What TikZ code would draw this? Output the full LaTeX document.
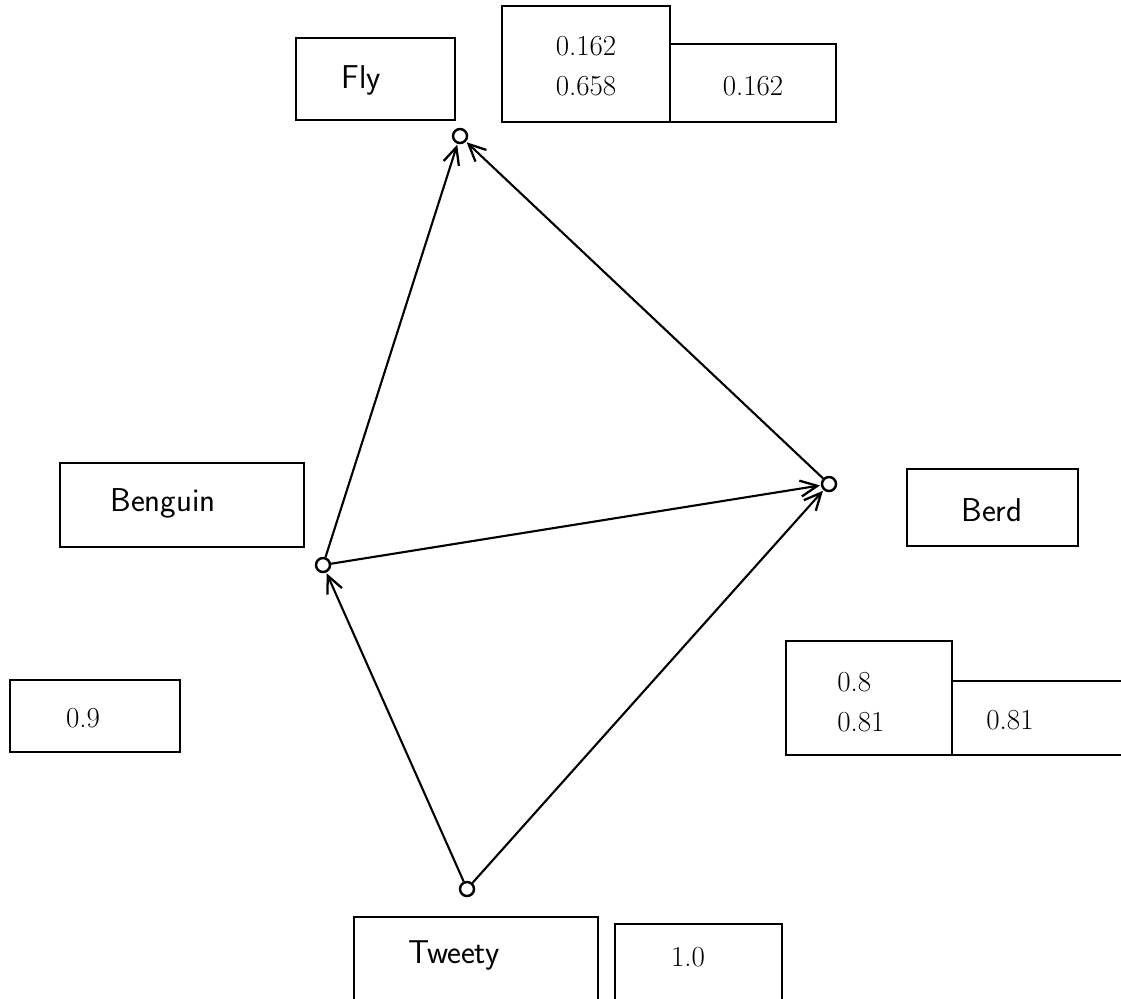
\documentclass[tikz,border=0pt]{standalone}
\usetikzlibrary{arrows.meta}
\begin{document}
\begin{tikzpicture}[x=0.02cm,y=-0.02cm,
  box/.style={draw, line width=1pt, rectangle, inner sep=0pt},
  lbl/.style={font=\fontsize{18.8}{22.7}\selectfont\sffamily, inner sep=0pt},
  num/.style={font=\fontsize{16.5}{22.7}\selectfont\rmfamily, inner sep=0pt, align=left},
  pt/.style={draw, circle, line width=1.4pt, minimum size=0.28cm, inner sep=0pt},
  edge/.style={line width=1.2pt, -{Straight Barb[length=3.4mm,width=3.2mm,line width=1.3pt]}, shorten >=0.5pt}]
\useasboundingbox (0,0) rectangle (1121,998);
% boxes
\node[box, minimum width=159*0.02cm, minimum height=82*0.02cm] (flybox) at (375.5,79) {};
\node[box, minimum width=168*0.02cm, minimum height=116*0.02cm] (flyA) at (586,64) {};
\node[box, minimum width=166*0.02cm, minimum height=78*0.02cm] (flyB) at (753,83) {};
\node[box, minimum width=244*0.02cm, minimum height=84*0.02cm] (benbox) at (182,505) {};
\node[box, minimum width=171*0.02cm, minimum height=77*0.02cm] (berbox) at (992.5,507.5) {};
\node[box, minimum width=170*0.02cm, minimum height=72*0.02cm] (benA) at (95,716) {};
\node[box, minimum width=166*0.02cm, minimum height=114*0.02cm] (berA) at (869,698) {};
\node[box, minimum width=180*0.02cm, minimum height=74*0.02cm] (berB) at (1042,718) {};
\node[box, minimum width=244*0.02cm, minimum height=90*0.02cm] (twbox) at (476,962) {};
\node[box, minimum width=167*0.02cm, minimum height=80*0.02cm] (twA) at (698.5,964) {};
% texts
\node[lbl] (flyt) at (361,80) {Fly};
\node[num, align=center] (flyAt) at (586,66) {0.162\\0.658};
\node[num] (flyBt) at (753,86) {0.162};
\node[lbl] (bent) at (163,503) {Benguin};
\node[lbl] (bert) at (992,510) {Berd};
\node[num] (benAt) at (83,718) {0.9};
\node[num, anchor=west] (berAt) at (837,702) {0.8\\0.81};
\node[num] (berBt) at (1010,720) {0.81};
\node[lbl] (twt) at (454,955) {Tweety};
\node[num] (twAt) at (688,957) {1.0};
% points
\node[pt] (fly) at (460,136) {};
\node[pt] (ben) at (323,565) {};
\node[pt] (ber) at (829,484) {};
\node[pt] (tw) at (467,889) {};
% connectors
\draw[edge] (ben) -- (fly);
\draw[edge] (ber) -- (fly);
\draw[edge] (ben) -- (ber);
\draw[edge] (tw) -- (ben);
\draw[edge] (tw) -- (ber);
\end{tikzpicture}
\end{document}
